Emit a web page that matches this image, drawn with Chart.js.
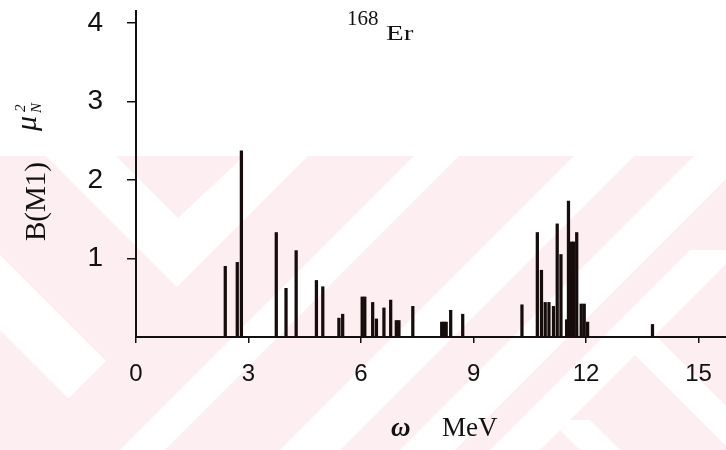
<!DOCTYPE html>
<html>
<head>
<meta charset="utf-8">
<script src="https://cdn.jsdelivr.net/npm/chart.js@4.4.1/dist/chart.umd.min.js"></script>
<style>
  html, body { margin: 0; padding: 0; background: #ffffff; }
  #wrap { position: relative; width: 726px; height: 450px; }
</style>
</head>
<body>
<div id="wrap"><canvas id="chart" width="726" height="450"></canvas></div>
<script>
// M1 transition energies (MeV) and reduced strengths B(M1) in mu_N^2 for 168Er
const energies = [2.38, 2.70, 2.81, 3.74, 4.00, 4.27, 4.81, 4.98, 5.41, 5.51,
                  6.03, 6.10, 6.31, 6.41, 6.61, 6.79, 6.94, 7.01, 7.38,
                  8.15, 8.21, 8.27, 8.39, 8.71,
                  10.29, 10.70, 10.81, 10.91, 11.01, 11.13, 11.23, 11.33, 11.48,
                  11.53, 11.61, 11.67, 11.75, 11.87, 11.95, 12.04, 13.77];
const strengths = [0.90, 0.95, 2.37, 1.33, 0.62, 1.10, 0.72, 0.64, 0.24, 0.29,
                   0.51, 0.51, 0.44, 0.23, 0.37, 0.47, 0.21, 0.21, 0.39,
                   0.19, 0.19, 0.19, 0.34, 0.29,
                   0.41, 1.33, 0.85, 0.44, 0.44, 0.39, 1.44, 1.05, 0.22,
                   1.73, 1.21, 1.21, 1.33, 0.42, 0.42, 0.19, 0.16];
const xTicks = [0, 3, 6, 9, 12, 15];
const yTicks = [1, 2, 3, 4];

const points = energies.map((e, i) => ({ x: e, y: strengths[i] }));

// light pink diagonal backdrop behind the lower half of the figure
const backdrop = {
  id: 'backdrop',
  beforeDraw(chart) {
    const ctx = chart.ctx;
    const W = chart.width, H = chart.height, top = 156;
    ctx.save();
    ctx.beginPath();
    ctx.rect(0, top, W, H - top);
    ctx.clip();
    ctx.fillStyle = '#fdeef1';
    ctx.fillRect(0, top, W, H - top);
    ctx.fillStyle = '#ffffff';
    const poly = (pts) => {
      ctx.beginPath();
      pts.forEach(([x, y], i) => (i ? ctx.lineTo(x, y) : ctx.moveTo(x, y)));
      ctx.closePath(); ctx.fill();
    };
    // "/" stripes between x + y = c1 and x + y = c2
    const slash = (c1, c2, ya, yb) =>
      poly([[c1 - ya, ya], [c2 - ya, ya], [c2 - yb, yb], [c1 - yb, yb]]);
    // "\" stripes between x - y = d1 and x - y = d2
    const back = (d1, d2, ya, yb) =>
      poly([[d1 + ya, ya], [d2 + ya, ya], [d2 + yb, yb], [d1 + yb, yb]]);

    poly([[46, 156], [116, 156], [178, 218], [244, 156], [308, 156], [177, 287]]);
    poly([[0, 255], [106, 361], [68.5, 398.5], [0, 330]]);
    slash(570, 615, top, H);
    slash(730, 790, top, H);
    slash(850, 905, top, H);
    slash(940, 990, 250, H);
    back(280, 320, 335, H);
    back(130, 170, 420, H);
    ctx.restore();
  }
};

// titles: nucleus label, rotated B(M1) mu_N^2 and the energy axis caption
const captions = {
  id: 'captions',
  afterDraw(chart) {
    const ctx = chart.ctx;
    ctx.save();
    ctx.fillStyle = '#111111';
    ctx.textBaseline = 'alphabetic';
    ctx.textAlign = 'left';
    ctx.font = '21px "Liberation Serif", serif';
    ctx.fillText('168', 347, 25);
    ctx.save();
    ctx.translate(386, 40);
    ctx.scale(1.45, 1);
    ctx.font = '20px "Liberation Serif", serif';
    ctx.fillText('Er', 0, 0);
    ctx.restore();

    ctx.font = 'bold italic 27px "Liberation Serif", serif';
    ctx.fillText('\u03c9', 391, 436);
    ctx.font = '27px "Liberation Serif", serif';
    ctx.fillText('MeV', 442, 436);

    ctx.translate(45, 241);
    ctx.rotate(-Math.PI / 2);
    ctx.font = '29px "Liberation Serif", serif';
    ctx.fillText('B(M1)', 0, 0);
    ctx.font = 'italic 30px "Liberation Serif", serif';
    ctx.fillText('\u03bc', 110, -9);
    ctx.font = 'italic 15px "Liberation Serif", serif';
    ctx.fillText('2', 129, -20);
    ctx.fillText('N', 128, -4);
    ctx.restore();
  }
};

new Chart(document.getElementById('chart'), {
  type: 'bar',
  data: {
    datasets: [{
      data: points,
      backgroundColor: '#160c0c',
      borderWidth: 0,
      barThickness: 2.6
    }]
  },
  options: {
    responsive: false,
    animation: false,
    devicePixelRatio: 1,
    layout: { padding: { top: 11, right: 0, bottom: 0, left: 0 } },
    plugins: { legend: { display: false }, tooltip: { enabled: false } },
    scales: {
      x: {
        type: 'linear',
        min: 0,
        max: 15.73,
        offset: false,
        afterFit(scale) { scale.height = 113; scale.paddingLeft = 0; scale.paddingRight = 0; },
        afterBuildTicks(scale) { scale.ticks = xTicks.map(v => ({ value: v })); },
        ticks: {
          autoSkip: false,
          maxRotation: 0,
          padding: 17,
          color: '#111111',
          font: { family: '"Liberation Sans", sans-serif', size: 24 }
        },
        grid: { drawOnChartArea: false, drawTicks: true, tickLength: 6, color: '#111111', lineWidth: 1.5, offset: false },
        border: { display: true, color: '#111111', width: 2 }
      },
      y: {
        type: 'linear',
        min: 0,
        max: 4.15,
        afterFit(scale) { scale.width = 136; scale.paddingTop = 0; scale.paddingBottom = 0; },
        afterBuildTicks(scale) { scale.ticks = yTicks.map(v => ({ value: v })); },
        ticks: {
          padding: 24,
          color: '#111111',
          font: { family: '"Liberation Sans", sans-serif', size: 28 }
        },
        grid: { drawOnChartArea: false, drawTicks: true, tickLength: 9, color: '#111111', lineWidth: 1.5 },
        border: { display: true, color: '#111111', width: 2 }
      }
    }
  },
  plugins: [backdrop, captions]
});
</script>
</body>
</html>
